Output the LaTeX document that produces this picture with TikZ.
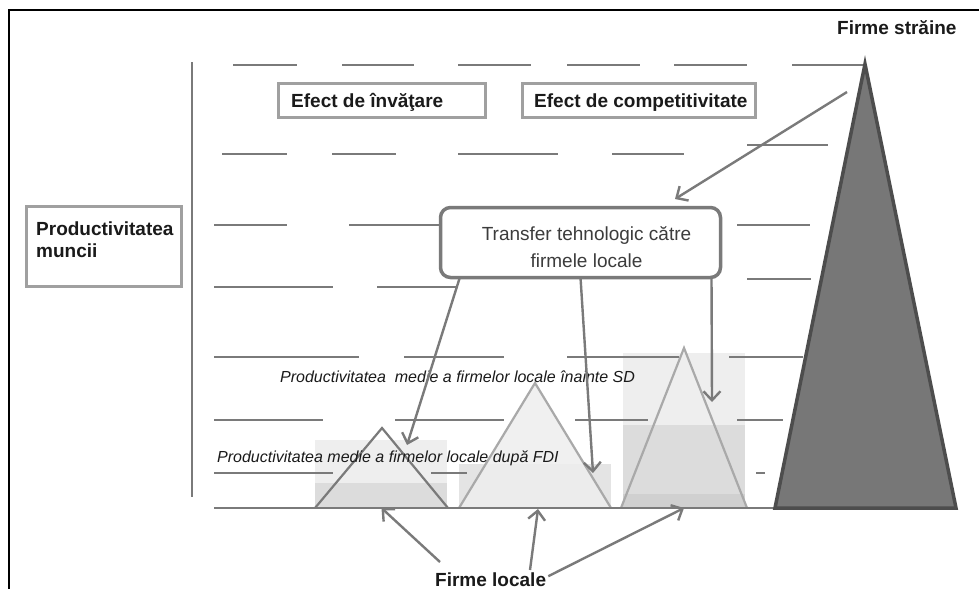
\documentclass[tikz,border=0pt]{standalone}
\usepackage{fontspec}
\setmainfont{Liberation Sans}
\usetikzlibrary{arrows.meta,calc}
\definecolor{gc}{HTML}{7A7A7A}
\definecolor{bc}{HTML}{A0A0A0}
\definecolor{dk}{HTML}{4D4D4D}
\definecolor{big}{HTML}{777777}
\definecolor{lt}{HTML}{EEEEEE}
\definecolor{md}{HTML}{DCDCDC}
\definecolor{md2}{HTML}{E4E4E4}
\definecolor{dd}{HTML}{D0D0D0}
\definecolor{tx}{HTML}{1A1A1A}
\tikzset{
  frameline/.style={draw=black, line width=2.2pt},
  dl/.style={draw=gc, line width=2.8pt},
  plainbox/.style={draw=bc, line width=3.5pt, inner sep=0pt, outer sep=0pt, fill=white},
  roundbox/.style={draw=gc, line width=3.5pt, rounded corners=10pt, inner sep=0pt, outer sep=0pt, fill=white},
  boldtxt/.style={font=\fontsize{19}{22}\selectfont\bfseries, text=tx, inner sep=0pt},
  itxt/.style={font=\fontsize{16}{19}\selectfont\itshape, text=tx, inner sep=0pt},
  normtxt/.style={font=\fontsize{19}{27}\selectfont, text=tx!85, inner sep=0pt},
  arr/.style={draw=gc, line width=2.4pt, -{Straight Barb[length=9pt,width=17pt]}},
  smalltri/.style={draw=gc, line width=2.2pt},
  lighttri/.style={draw=gc!65, line width=2.2pt}
}
\begin{document}
\begin{tikzpicture}[x=1pt,y=-1pt]
\useasboundingbox (0,0) rectangle (979,589);
\fill[white] (0,0) rectangle (979,589);
% frame
\draw[frameline] (979,10) -- (9,10) -- (9,589);
% vertical axis
\draw[draw=gc, line width=2.2pt] (192,62) -- (192,497);

% background rectangles of local firms
\fill[lt] (315,440) rectangle (447,483);
\fill[md] (315,483) rectangle (447,508);
\fill[md2] (459,464) rectangle (611,508);
\fill[lt] (623,353) rectangle (745,425);
\fill[md] (623,425) rectangle (745,494);
\fill[dd] (623,494) rectangle (745,508);

% triangles of local firms
\coordinate (t1a) at (382,428); \coordinate (t1l) at (315,508); \coordinate (t1r) at (448,508);
\coordinate (t2a) at (535,383); \coordinate (t2l) at (459,508); \coordinate (t2r) at (611,508);
\coordinate (t3a) at (684,348); \coordinate (t3l) at (621,508); \coordinate (t3r) at (747,508);
\draw[smalltri] (t1l) -- (t1a) -- (t1r);
\draw[lighttri, fill=lt, fill opacity=0.85] (t2l) -- (t2a) -- (t2r);
\draw[lighttri] (t3l) -- (t3a) -- (t3r);

% dashed guide lines
\foreach \a/\b/\y in {233/297/65,342/414/65,458/531/65,567/640/65,674/747/65,792/863/65,
  222/287/154,332/396/154,458/558/154,612/684/154,747/828/145,
  214/287/225,349/440/225,737/810/225,
  214/333/287,377/456/287,747/811/279,
  214/359/357,404/504/357,567/679/357,729/803/357,
  214/323/420,395/504/420,575/648/420,737/783/420,
  214/333/473,431/467/473,756/765/473,
  214/775/508}
  \draw[dl] (\a,\y) -- (\b,\y);

% foreign firms triangle
\coordinate (ba) at (865,64); \coordinate (bl) at (775,508); \coordinate (br) at (956,508);
\draw[draw=dk, fill=big, line width=3.5pt] (bl) -- (ba) -- (br) -- cycle;

% boxes
\node[plainbox, minimum width=155pt, minimum height=80pt] (pm) at (104,246.5) {};
\node[boldtxt, anchor=north west, align=left] (pmt) at (36,221.5) {Productivitatea\\muncii};
\node[plainbox, minimum width=207pt, minimum height=34pt] (ei) at (382,100.5) {};
\node[boldtxt, anchor=base west] (eit) at (291,107) {Efect de învăţare};
\node[plainbox, minimum width=233pt, minimum height=34pt] (ec) at (639,100.5) {};
\node[boldtxt, anchor=base west] (ect) at (534,107) {Efect de competitivitate};
\node[roundbox, minimum width=280pt, minimum height=70pt] (tt) at (580.5,242.5) {};
\node[normtxt, anchor=north, align=center] (ttt) at (586.5,226.3) {Transfer tehnologic către\\firmele locale};

% labels
\node[boldtxt, anchor=base west] (fs) at (837,34) {Firme străine};
\node[boldtxt, anchor=base west] (fl) at (435,586) {Firme locale};
\node[itxt, anchor=base west] (pi) at (280,382) {Productivitatea~ medie a firmelor locale înainte SD};
\node[itxt, anchor=base west] (pd) at (217,462) {Productivitatea medie a firmelor locale după FDI};

% arrows
\coordinate (bs) at (847,92);
\coordinate (be) at (675,199);
\draw[arr] (bs) -- (be);
\coordinate (a2e) at (407,445);
\coordinate (a3e) at (593,473);
\coordinate (a4e) at (712,402);
\draw[arr] ($(tt.south west)+(19,1)$) -- (a2e);
\draw[arr] (tt.south) -- (a3e);
\draw[arr] ($(tt.south east)+(-9,0)$) -- (a4e);
\coordinate (fa) at (440,562);
\coordinate (fb) at (530,570);
\draw[arr] (fa) -- ($(t1l)!0.5!(t1r)$);
\draw[arr] (fb) -- ($(t2l)!0.5!(t2r)+(3,1)$);
\draw[arr] ($(fl.east)+(2,-3)$) -- ($(t3l)!0.5!(t3r)$);
\end{tikzpicture}
\end{document}
